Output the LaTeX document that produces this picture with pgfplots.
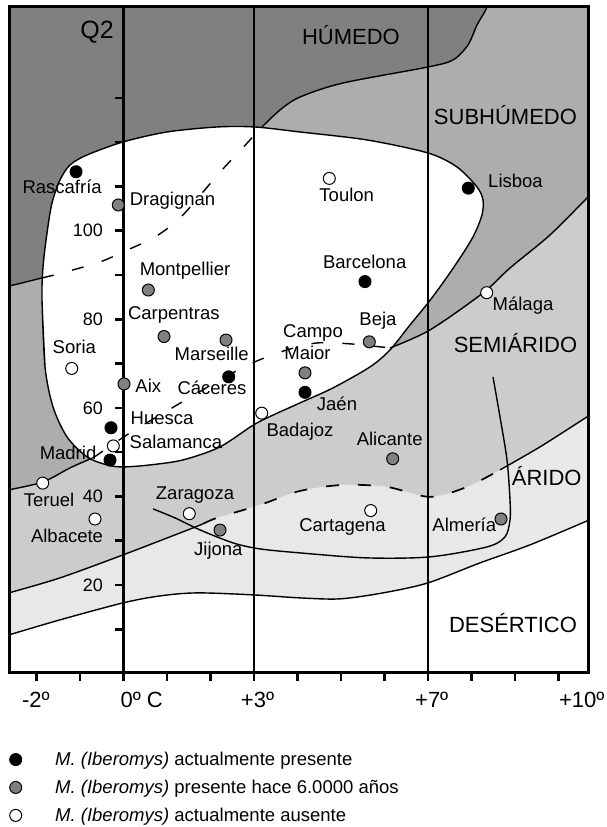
\documentclass[border=0pt]{standalone}
\usepackage{pgfplots}
\pgfplotsset{compat=1.18}
\usepackage{fontspec}
\setmainfont{Liberation Sans}

\definecolor{humedo}{gray}{0.50}
\definecolor{subhum}{gray}{0.68}
\definecolor{semiar}{gray}{0.80}
\definecolor{arido}{gray}{0.91}
\definecolor{dotgray}{gray}{0.50}

\newcommand\cityfont{\fontsize{18.5}{21}\selectfont}
\newcommand\zonefont{\fontsize{22}{26}\selectfont}
\newcommand\tickfont{\fontsize{18}{21}\selectfont}

\begin{document}
\begin{tikzpicture}
\begin{axis}[
  at={(0,0)}, anchor=south west,
  scale only axis,
  width=579.3pt, height=665.7pt,
  xmin=-2.628, xmax=10.690, ymin=0.2, ymax=150.5,
  axis background/.style={fill=humedo},
  axis on top,
  axis line style={line width=3pt},
  xtick={-2,...,10}, xticklabels={,,,,,,,,,,,,}, xtick pos=left,
  ytick=\empty,
  tick align=outside, major tick length=8pt,
  every tick/.append style={black, line width=2.5pt},
  clip mode=individual,
  zone/.style={draw=none, smooth, tension=0.5, forget plot},
  bound/.style={black, line width=1.4pt, smooth, tension=0.5, forget plot},
  inner/.style={bound, dash pattern=on 12pt off 19pt},
  citymark/.style={only marks, mark=*, mark size=6pt, line width=1pt,
    legend image code/.code={\path (0pt,-6pt) (45pt,6pt);
      \draw[##1] plot coordinates {(6pt,0pt)};}},
  legend style={draw=none, fill=none, at={(0,-0.119)}, anchor=north west,
    row sep=13pt, inner sep=0pt, nodes={inner sep=0pt, font=\cityfont}},
  legend cell align=left,
]

% zones, painted from the top down
\addplot[zone, fill=subhum] coordinates {
  (-3.0,87.2) (-2.628,87.52) (-1.869,89.33) (-1.409,90.45) (-0.536,92.94)
  (-0.007,95.20) (0.729,98.58) (1.303,102.87) (1.832,108.74) (2.269,113.71)
  (2.913,120.48) (3.189,123.41) (3.602,127.25) (4.062,130.18) (5.051,133.34)
  (7.004,136.96) (7.579,138.54) (7.924,141.92) (8.131,146.44) (8.361,150.5)
  (8.476,155.5) (11.5,156) (11.5,-5) (-3,-5)};
\addplot[zone, fill=semiar] coordinates {
  (-3.0,40.6) (-2.628,41.47) (-1.846,43.28) (-1.225,46.44) (-0.697,48.69)
  (0.154,54.34) (1.120,59.98) (1.671,63.14) (2.338,66.98) (3.074,70.59)
  (3.763,73.07) (4.453,74.65) (5.234,74.43) (6.131,73.52) (7.051,77.59)
  (8.269,85.94) (8.890,91.58) (9.809,99.03) (10.683,107.61) (11.2,112.8)
  (11.5,-5) (-3,-5)};
\addplot[zone, fill=arido] coordinates {
  (-3.0,17.15) (-2.628,18.22) (-1.455,21.61) (-0.007,26.80) (1.602,32.89)
  (2.154,35.15) (3.142,38.08) (4.062,41.24) (5.051,42.60) (6.062,42.15)
  (7.051,39.89) (7.901,42.15) (8.660,45.99) (9.579,51.18) (10.660,57.95)
  (11.2,61.3) (11.5,-5) (-3,-5)};
\addplot[zone, fill=white] coordinates {
  (-3.0,7.67) (-2.628,8.74) (-1.455,12.13) (-0.007,15.96) (0.844,17.54)
  (1.694,18.22) (2.982,17.77) (4.062,17.09) (4.982,16.87) (5.970,18.22)
  (7.004,20.48) (8.200,24.99) (9.349,29.06) (10.660,34.47) (11.2,36.9)
  (11.5,-5) (-3,-5)};

% area of M. (Iberomys)
\addplot[bound, fill=white] coordinates {
  (-1.869,84.36) (-1.800,69.24) (-1.616,60.21) (-1.294,53.43) (-0.834,48.92)
  (-0.375,47.11) (-0.007,46.66) (0.614,47.11) (1.372,48.24) (2.223,51.18)
  (3.074,56.59) (4.062,61.11) (4.821,64.50) (5.671,69.24) (6.131,73.07)
  (6.591,78.72) (7.004,83.68) (7.395,88.87) (7.786,94.52) (8.062,99.03)
  (8.246,103.55) (8.269,106.93) (8.131,109.87) (7.671,114.38) (7.004,117.54)
  (5.602,120.48) (4.062,122.28) (3.028,123.41) (2.154,123.41) (1.005,122.28)
  (-0.007,120.03) (-0.834,117.09) (-1.225,114.83) (-1.455,111.45)
  (-1.639,106.26) (-1.754,99.48) (-1.846,91.81) (-1.869,84.36) (-1.800,69.24)};

% boundary lines
\addplot[bound] coordinates {(-3.0,87.2) (-2.628,87.52) (-1.869,89.33)};
\addplot[inner] coordinates {
  (-1.869,89.33) (-1.409,90.45) (-0.536,92.94) (-0.007,95.20) (0.729,98.58)
  (1.303,102.87) (1.832,108.74) (2.269,113.71) (2.913,120.48) (3.15,123.2)};
\addplot[bound] coordinates {
  (3.189,123.41) (3.602,127.25) (4.062,130.18) (5.051,133.34) (7.004,136.96)
  (7.579,138.54) (7.924,141.92) (8.131,146.44) (8.361,150.5) (8.476,155.5)};

\addplot[bound] coordinates {
  (-3.0,40.6) (-2.628,41.47) (-1.846,43.28) (-1.225,46.44) (-0.75,48.5)};
\addplot[inner] coordinates {
  (-0.697,48.69) (0.154,54.34) (1.120,59.98) (1.671,63.14) (2.338,66.98)
  (3.074,70.59) (3.763,73.07) (4.453,74.65) (5.234,74.43) (6.131,73.52)};
\addplot[bound] coordinates {
  (6.131,73.52) (7.051,77.59) (8.269,85.94) (8.890,91.58) (9.809,99.03)
  (10.683,107.61) (11.2,112.8)};

\addplot[bound] coordinates {
  (-3.0,17.15) (-2.628,18.22) (-1.455,21.61) (-0.007,26.80) (1.602,32.89)
  (1.85,33.9)};
\addplot[bound, line width=1.7pt, dash pattern=on 13pt off 19pt] coordinates {
  (1.85,33.9) (2.154,35.15) (3.142,38.08) (4.062,41.24) (5.051,42.60)
  (6.062,42.15) (7.051,39.89) (7.901,42.15) (8.660,45.99)};
\addplot[bound] coordinates {
  (8.660,45.99) (9.579,51.18) (10.660,57.95) (11.2,61.3)};

\addplot[bound] coordinates {
  (-3.0,7.67) (-2.628,8.74) (-1.455,12.13) (-0.007,15.96) (0.844,17.54)
  (1.694,18.22) (2.982,17.77) (4.062,17.09) (4.982,16.87) (5.970,18.22)
  (7.004,20.48) (8.200,24.99) (9.349,29.06) (10.660,34.47) (11.2,36.9)};

\addplot[bound] coordinates {
  (0.683,37.18) (1.189,35.15) (1.763,32.44) (2.522,29.51) (3.142,28.15)
  (4.062,27.25) (5.602,26.12) (7.051,26.35) (8.361,28.60) (8.775,30.86)
  (8.890,34.70) (8.890,39.21) (8.821,48.24) (8.660,57.95) (8.499,66.98)};

% temperature lines and Q2 ticks
\draw[line width=2.5pt] (axis cs:0,0.2) -- (axis cs:0,150.5);
\draw[line width=2.5pt] (axis cs:3,0.2) -- (axis cs:3,150.5);
\draw[line width=2.5pt] (axis cs:7,0.2) -- (axis cs:7,150.5);
\pgfplotsinvokeforeach{10,20,...,130}{
  \draw[line width=2.5pt] (axis cs:0,#1) -- ++(-8pt,0pt);}
\pgfplotsinvokeforeach{20,40,...,100}{
  \node[anchor=east, font=\tickfont, inner sep=0pt] at (axis cs:-0.467,#1) {#1};}

% stations
\addplot[citymark, mark options={draw=black, fill=black}] coordinates {
  (-1.087,113.3) (7.931,109.6) (5.556,88.5) (2.423,67.0) (-0.283,55.5)
  (-0.306,48.2) (4.177,63.5)};
\addlegendentry{\textit{M. (Iberomys)} actualmente presente}
\addplot[citymark, mark options={draw=black, fill=dotgray}] coordinates {
  (-0.115,105.8) (0.575,86.6) (0.936,76.1) (2.361,75.3) (0.016,65.4)
  (5.655,74.9) (4.177,67.9) (6.193,48.5) (2.223,32.4) (8.683,34.9)};
\addlegendentry{\textit{M. (Iberomys)} presente hace 6.0000 años}
\addplot[citymark, mark options={draw=black, fill=white}] coordinates {
  (4.736,111.8) (8.354,86.0) (-1.186,68.9) (-0.230,51.4) (-1.853,43.0)
  (-0.651,34.9) (1.517,36.1) (3.182,58.8) (5.687,36.8)};
\addlegendentry{\textit{M. (Iberomys)} actualmente ausente}

% names
\begin{scope}[every node/.style={font=\cityfont, inner sep=0pt, anchor=mid}]
\node at (axis cs:-1.407,109.0) {Rascafría};
\node at (axis cs:1.131,106.3) {Dragignan};
\node at (axis cs:1.418,90.5) {Montpellier};
\node at (axis cs:5.136,107.1) {Toulon};
\node at (axis cs:9.016,110.3) {Lisboa};
\node at (axis cs:5.549,92.0) {Barcelona};
\node at (axis cs:9.189,82.5) {Málaga};
\node at (axis cs:1.161,80.45) {Carpentras};
\node at (axis cs:2.032,71.2) {Marseille};
\node at (axis cs:-1.126,72.9) {Soria};
\node at (axis cs:0.575,64.0) {Aix};
\node at (axis cs:2.039,63.7) {Cáceres};
\node at (axis cs:0.890,56.75) {Huesca};
\node at (axis cs:1.211,51.4) {Salamanca};
\node at (axis cs:-1.271,48.85) {Madrid};
\node at (axis cs:-1.708,38.3) {Teruel};
\node at (axis cs:-1.294,30.3) {Albacete};
\node at (axis cs:1.648,39.95) {Zaragoza};
\node at (axis cs:2.184,27.3) {Jijona};
\node at (axis cs:4.062,54.1) {Badajoz};
\node at (axis cs:4.361,76.5) {Campo};
\node at (axis cs:4.234,71.6) {Maior};
\node at (axis cs:5.855,79.2) {Beja};
\node at (axis cs:4.913,60.1) {Jaén};
\node at (axis cs:6.124,52.15) {Alicante};
\node at (axis cs:5.040,32.6) {Cartagena};
\node at (axis cs:7.839,32.6) {Almería};
\end{scope}
\begin{scope}[every node/.style={font=\zonefont, inner sep=0pt}]
\node at (axis cs:5.234,144.2) {HÚMEDO};
\node at (axis cs:8.786,126.1) {SUBHÚMEDO};
\node at (axis cs:9.016,74.6) {SEMIÁRIDO};
\node at (axis cs:9.733,44.5) {ÁRIDO};
\node at (axis cs:8.959,11.5) {DESÉRTICO};
\node at (axis cs:-2.011,-5.93) {-2º};
\node at (axis cs:0.423,-5.93) {0º C};
\node at (axis cs:3.085,-5.93) {+3º};
\node at (axis cs:7.090,-5.93) {+7º};
\node at (axis cs:10.538,-5.93) {+10º};
\end{scope}
\node[font=\fontsize{25}{28}\selectfont, inner sep=0pt] at (axis cs:-0.602,144.9) {Q2};
\end{axis}
\pgfresetboundingbox
\path[use as bounding box] (-9pt,-154.3pt) rectangle (598pt,672.7pt);
\end{tikzpicture}
\end{document}
